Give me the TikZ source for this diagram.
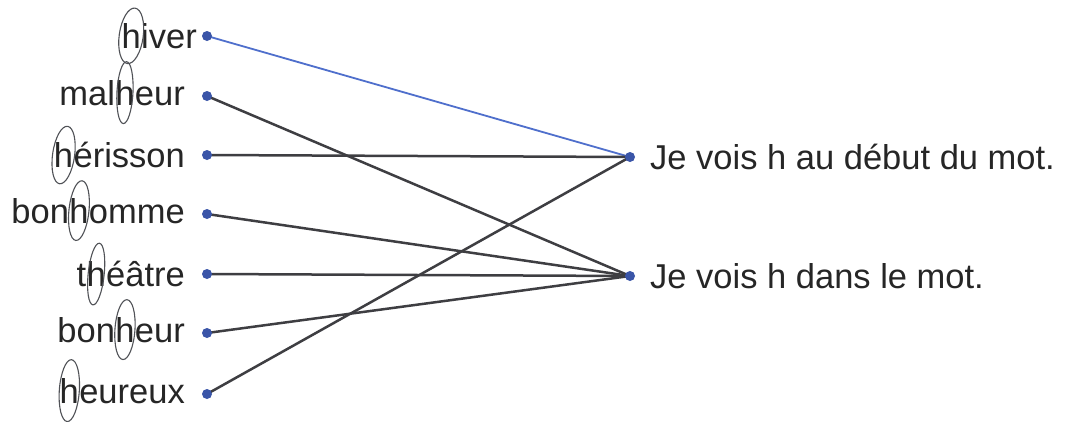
\documentclass[tikz,border=0pt]{standalone}
\usepackage{fontspec}
\setmainfont{Liberation Sans}
\usetikzlibrary{positioning}
\definecolor{inkgray}{HTML}{262626}
\definecolor{linegray}{HTML}{3E3E42}
\definecolor{dotblue}{HTML}{3A55A8}
\definecolor{lineblue}{HTML}{4F6FCC}
\definecolor{pencil}{HTML}{505257}

\begin{document}
\begin{tikzpicture}[x=1pt, y=-1pt,
    word/.style={anchor=mid east, inner sep=0pt, text=inkgray, font=\fontsize{34.5}{38}\selectfont},
    phrase/.style={anchor=mid west, inner sep=0pt, text=inkgray, font=\fontsize{34.5}{38}\selectfont},
    dot/.style={circle, fill=dotblue, inner sep=0pt, minimum size=10pt},
    link/.style={linegray, line width=2.5pt},
    hring/.style={pencil, line width=1.1pt}]

    \fill[white] (0,0) rectangle (1069,421);
    \useasboundingbox (0,0) rectangle (1069,421);

    % dot positions
    \coordinate (phiver) at (207,36);
    \coordinate (pmalheur) at (207,96);
    \coordinate (pherisson) at (207,155);
    \coordinate (pbonhomme) at (207,214);
    \coordinate (ptheatre) at (207,274);
    \coordinate (pbonheur) at (207,333);
    \coordinate (pheureux) at (207,394);
    \coordinate (pdebut) at (630,157);
    \coordinate (pdans) at (630,276);

    % links
    \draw [lineblue, line width=1.8pt] (phiver) -- (pdebut);
    \draw [link] (pmalheur) -- (pdans);
    \draw [link] (pherisson) -- (pdebut);
    \draw [link] (pbonhomme) -- (pdans);
    \draw [link] (ptheatre) -- (pdans);
    \draw [link] (pbonheur) -- (pdans);
    \draw [link] (pheureux) -- (pdebut);

    % left column
    \node [dot] (dhiver) at (phiver) {};
    \node [dot] (dmalheur) at (pmalheur) {};
    \node [dot] (dherisson) at (pherisson) {};
    \node [dot] (dbonhomme) at (pbonhomme) {};
    \node [dot] (dtheatre) at (ptheatre) {};
    \node [dot] (dbonheur) at (pbonheur) {};
    \node [dot] (dheureux) at (pheureux) {};

    % words, cut round the h
    \node [word, left=10pt of dhiver.center] (hiver) {iver};
    \node [word] (hiverh) at (hiver.mid west) {h};

    \node [word, left=22pt of dmalheur.center] (malheur) {eur};
    \node [word] (malheurh) at (malheur.mid west) {h};
    \node [word] (malheurs) at (malheurh.mid west) {mal};

    \node [word, left=22pt of dherisson.center] (herisson) {érisson};
    \node [word] (herissonh) at (herisson.mid west) {h};

    \node [word, left=22pt of dbonhomme.center] (bonhomme) {omme};
    \node [word] (bonhommeh) at (bonhomme.mid west) {h};
    \node [word] (bonhommes) at (bonhommeh.mid west) {bon};

    \node [word, left=22pt of dtheatre.center] (theatre) {éâtre};
    \node [word] (theatreh) at (theatre.mid west) {h};
    \node [word] (theatres) at (theatreh.mid west) {t};

    \node [word, left=22pt of dbonheur.center] (bonheur) {eur};
    \node [word] (bonheurh) at (bonheur.mid west) {h};
    \node [word] (bonheurs) at (bonheurh.mid west) {bon};

    \node [word, left=22pt of dheureux.center] (heureux) {eureux};
    \node [word] (heureuxh) at (heureux.mid west) {h};

    % right column
    \node [dot] (ddebut) at (pdebut) {};
    \node [dot] (ddans) at (pdans) {};
    \node [phrase, right=20pt of ddebut.center] (debut) {Je vois h au début du mot.};
    \node [phrase, right=20pt of ddans.center] (dans) {Je vois h dans le mot.};

    % pencil rings round the h
    \draw [hring, shift={(0,3)}, rotate around={-8:(hiverh.center)}] (hiverh.center) ellipse [x radius=12, y radius=28];
    \draw [hring, shift={(-1,3)}, rotate around={-3:(malheurh.center)}] (malheurh.center) ellipse [x radius=8, y radius=31];
    \draw [hring, shift={(0,3)}, rotate around={-8:(herissonh.center)}] (herissonh.center) ellipse [x radius=11, y radius=29];
    \draw [hring, shift={(0,3)}, rotate around={-6:(bonhommeh.center)}] (bonhommeh.center) ellipse [x radius=10, y radius=30];
    \draw [hring, shift={(0,3)}, rotate around={-6:(theatreh.center)}] (theatreh.center) ellipse [x radius=8, y radius=31];
    \draw [hring, shift={(0,3)}, rotate around={-4:(bonheurh.center)}] (bonheurh.center) ellipse [x radius=10, y radius=30];
    \draw [hring, shift={(0,3)}, rotate around={-4:(heureuxh.center)}] (heureuxh.center) ellipse [x radius=10, y radius=31];
\end{tikzpicture}
\end{document}
